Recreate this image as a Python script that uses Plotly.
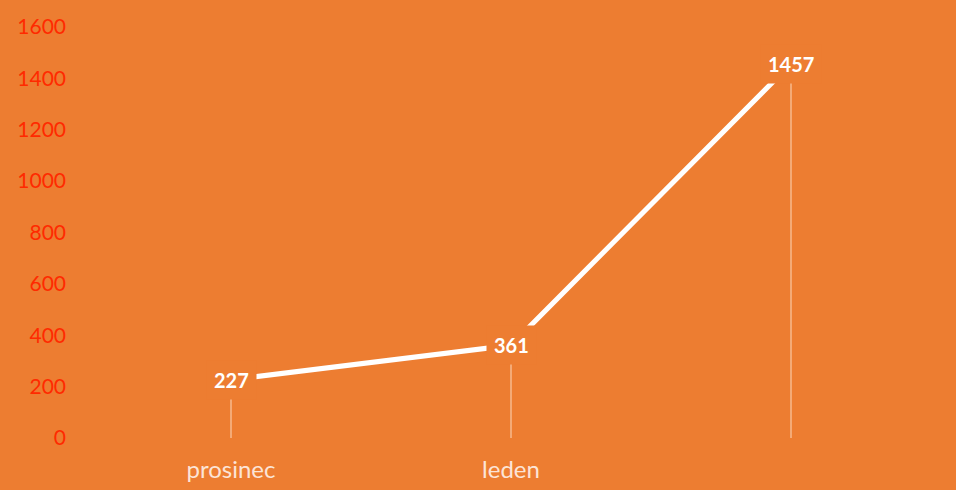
import plotly.graph_objects as go

months = ["prosinec", "leden", ""]
values = [227, 361, 1457]
positions = [0, 1, 2]

ORANGE = "#ED7D31"

fig = go.Figure()
fig.add_trace(
    go.Scatter(
        x=positions,
        y=values,
        mode="lines",
        line=dict(color="white", width=5),
        error_y=dict(
            type="data",
            symmetric=False,
            array=[0] * len(values),
            arrayminus=values,
            color="rgba(255,245,235,0.75)",
            thickness=1,
            width=0,
        ),
        hoverinfo="skip",
        showlegend=False,
    )
)

# value labels sit on the points, the orange box hides the line ends
for xp, v in zip(positions, values):
    fig.add_annotation(
        x=xp, y=v, text=f"<b>{v}</b>", showarrow=False,
        font=dict(family="Lato", size=20, color="white"),
        bgcolor=ORANGE, borderpad=7,
    )

fig.update_layout(
    width=956,
    height=490,
    margin=dict(l=91, r=25, t=27, b=52),
    paper_bgcolor=ORANGE,
    plot_bgcolor=ORANGE,
    font=dict(family="Lato"),
)
fig.update_xaxes(
    range=[-0.5, 2.5],
    tickvals=positions,
    ticktext=months,
    showgrid=False,
    zeroline=False,
    showline=False,
    ticks="",
    automargin=False,
    ticklabelstandoff=15,
    tickfont=dict(size=24, color="#FCE4D6"),
)
fig.update_yaxes(
    range=[0, 1600],
    dtick=200,
    showgrid=False,
    zeroline=False,
    showline=False,
    ticks="",
    automargin=False,
    ticklabelstandoff=24,
    tickfont=dict(size=21, color="#FF2A00"),
)

fig.write_html(
    "out.html",
    config={"displayModeBar": False},
    post_script="document.body.style.margin='0';document.body.style.background='#ED7D31';",
)
